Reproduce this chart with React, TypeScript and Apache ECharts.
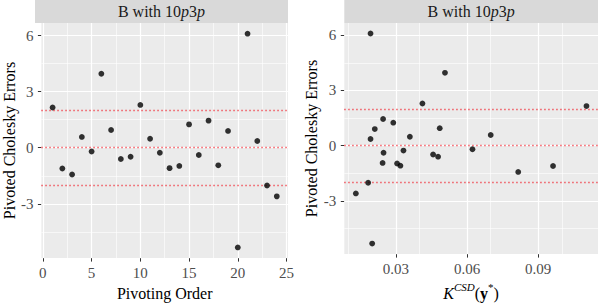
import React, { useEffect, useRef } from "react";
import * as echarts from "echarts";

// Pivoted Cholesky errors, listed in pivoting order 1..24
const pivotOrder = [1, 2, 3, 4, 5, 6, 7, 8, 9, 10, 11, 12, 13, 14, 15, 16, 17, 18, 19, 20, 21, 22, 23, 24];
const cholErrors = [2.15, -1.11, -1.43, 0.58, -0.2, 3.96, 0.95, -0.6, -0.48, 2.29, 0.48, -0.27, -1.09, -0.97, 1.25, -0.39, 1.45, -0.94, 0.9, -5.33, 6.1, 0.36, -2.02, -2.6];
// conditional standard deviation K^CSD(y*) of each pivot
const kCsd = [0.1104, 0.0963, 0.0816, 0.07, 0.0623, 0.0507, 0.0485, 0.0478, 0.0457, 0.0412, 0.0359, 0.0332, 0.0319, 0.0305, 0.0289, 0.0248, 0.0246, 0.0244, 0.0211, 0.02, 0.0193, 0.0193, 0.0183, 0.0131];

// reference bands
const refLines = [2, 0, -2];

// axis breaks
const yMajor = [-3, 0, 3, 6];
const yMinor = [-4.5, -1.5, 1.5, 4.5];
const orderMajor = [0, 5, 10, 15, 20, 25];
const orderMinor = [2.5, 7.5, 12.5, 17.5, 22.5];
const kMajor = [0.03, 0.06, 0.09];
const kMinor = [0.015, 0.045, 0.075, 0.105];

const stripTitle = "{r|B with 10}{i|p}{r|3}{i|p}";

const FONT = "Liberation Serif";

// ggplot-style 5% expansion of the data range
function expand(vals: number[]): [number, number] {
  const lo = Math.min(...vals);
  const hi = Math.max(...vals);
  const pad = (hi - lo) * 0.05;
  return [lo - pad, hi + pad];
}

export default function App() {
  const ref = useRef<HTMLDivElement>(null);

  useEffect(() => {
    if (!ref.current) return;
    const chart = echarts.init(ref.current, undefined, { renderer: "svg" });

    const [yMin, yMax] = expand(cholErrors);
    const [oMin, oMax] = expand(pivotOrder);
    const [kMin, kMax] = expand(kCsd);

    const grids = [
      { left: 35, width: 253, top: 23, height: 245 },
      { left: 344.3, width: 253.7, top: 23, height: 245 },
    ];

    const tickLabel = {
      color: "#4D4D4D",
      fontFamily: FONT,
      fontSize: 15,
    };

    const mkX = (idx: number, min: number, max: number, major: number[], name: any, rich: any, fmt: (v: number) => string) => ({
      type: "value",
      gridIndex: idx,
      min,
      max,
      axisLine: { show: false, onZero: false },
      splitLine: { show: false },
      axisTick: { show: true, customValues: major, length: 3.5, lineStyle: { color: "#333333", width: 1 } },
      axisLabel: { ...tickLabel, customValues: major, margin: 7, formatter: (v: number) => fmt(v) },
      name,
      nameLocation: "middle",
      nameGap: 19,
      nameTextStyle: { color: "#000", fontFamily: FONT, fontSize: 16, rich },
    });

    const mkY = (idx: number, gap: number) => ({
      type: "value",
      gridIndex: idx,
      min: yMin,
      max: yMax,
      axisLine: { show: false, onZero: false },
      splitLine: { show: false },
      axisTick: { show: true, customValues: yMajor, length: 3.5, lineStyle: { color: "#333333", width: 1 } },
      axisLabel: { ...tickLabel, customValues: yMajor, margin: 8, formatter: (v: number) => String(v) },
      name: "Pivoted Cholesky Errors",
      nameLocation: "middle",
      nameGap: gap,
      nameTextStyle: { color: "#000", fontFamily: FONT, fontSize: 16 },
    });

    const gridLines = (idx: number, xMajor: number[], xMinor: number[]) => ({
      type: "line",
      xAxisIndex: idx,
      yAxisIndex: idx,
      data: [],
      silent: true,
      z: 1,
      markLine: {
        silent: true,
        z: 1,
        symbol: "none",
        animation: false,
        label: { show: false },
        data: [
          ...xMinor.map((v) => ({ xAxis: v, lineStyle: { color: "#FFFFFF", width: 0.6, type: "solid" } })),
          ...yMinor.map((v) => ({ yAxis: v, lineStyle: { color: "#FFFFFF", width: 0.6, type: "solid" } })),
          ...xMajor.map((v) => ({ xAxis: v, lineStyle: { color: "#FFFFFF", width: 1.2, type: "solid" } })),
          ...yMajor.map((v) => ({ yAxis: v, lineStyle: { color: "#FFFFFF", width: 1.2, type: "solid" } })),
        ],
      },
    });

    const refSeries = (idx: number) => ({
      type: "line",
      xAxisIndex: idx,
      yAxisIndex: idx,
      data: [],
      silent: true,
      z: 3,
      markLine: {
        silent: true,
        z: 3,
        symbol: "none",
        animation: false,
        label: { show: false },
        lineStyle: { color: "#F2222E", width: 1.3, type: [1.3, 2.7], opacity: 0.85 },
        data: refLines.map((v) => ({ yAxis: v })),
      },
    });

    const points = (idx: number, xs: number[]) => ({
      type: "scatter",
      xAxisIndex: idx,
      yAxisIndex: idx,
      z: 10,
      symbolSize: 5.8,
      itemStyle: { color: "#000000" },
      data: xs.map((x, i) => [x, cholErrors[i]]),
    });

    const stripRich = {
      r: { fontFamily: FONT, fontSize: 16, fill: "#1A1A1A" },
      i: { fontFamily: FONT, fontSize: 16, fontStyle: "italic", fill: "#1A1A1A" },
    };

    const kRich = {
      k: { fontFamily: FONT, fontSize: 16, fontStyle: "italic", color: "#000", lineHeight: 20, verticalAlign: "bottom" },
      s: { fontFamily: FONT, fontSize: 11, fontStyle: "italic", color: "#000", lineHeight: 11, verticalAlign: "top" },
      r: { fontFamily: FONT, fontSize: 16, color: "#000", lineHeight: 20, verticalAlign: "bottom" },
      b: { fontFamily: FONT, fontSize: 16, fontWeight: "bold", color: "#000", lineHeight: 20, verticalAlign: "bottom" },
      t: { fontFamily: FONT, fontSize: 11, color: "#000", lineHeight: 11, verticalAlign: "top" },
    };

    chart.setOption({
      animation: false,
      textStyle: { fontFamily: FONT },
      grid: grids.map((g) => ({ ...g, show: true, backgroundColor: "#EBEBEB", borderWidth: 0 })),
      xAxis: [
        mkX(0, oMin, oMax, orderMajor, "Pivoting Order", undefined, (v) => String(v)),
        mkX(1, kMin, kMax, kMajor, "{k|K}{s|CSD}{r|(}{b|y}{t|*}{r|)}", kRich, (v) => v.toFixed(2)),
      ],
      yAxis: [mkY(0, 19), mkY(1, 23)],
      graphic: [
        ...grids.map((g) => ({
          type: "rect",
          shape: { x: g.left, y: 0, width: g.width, height: 23 },
          style: { fill: "#D9D9D9" },
          silent: true,
        })),
        ...grids.map((g) => ({
          type: "text",
          x: g.left + g.width / 2,
          y: 11.5,
          silent: true,
          style: {
            text: stripTitle,
            rich: stripRich,
            fontFamily: FONT,
            fontSize: 16,
            align: "center",
            verticalAlign: "middle",
            fill: "#1A1A1A",
          },
        })),
      ],
      series: [
        gridLines(0, orderMajor, orderMinor),
        gridLines(1, kMajor, kMinor),
        refSeries(0),
        refSeries(1),
        points(0, pivotOrder),
        points(1, kCsd),
      ],
    });

    return () => chart.dispose();
  }, []);

  return (
    <div
      ref={ref}
      style={{ position: "fixed", left: 0, top: 0, width: 598, height: 306, background: "#FFFFFF" }}
    />
  );
}
